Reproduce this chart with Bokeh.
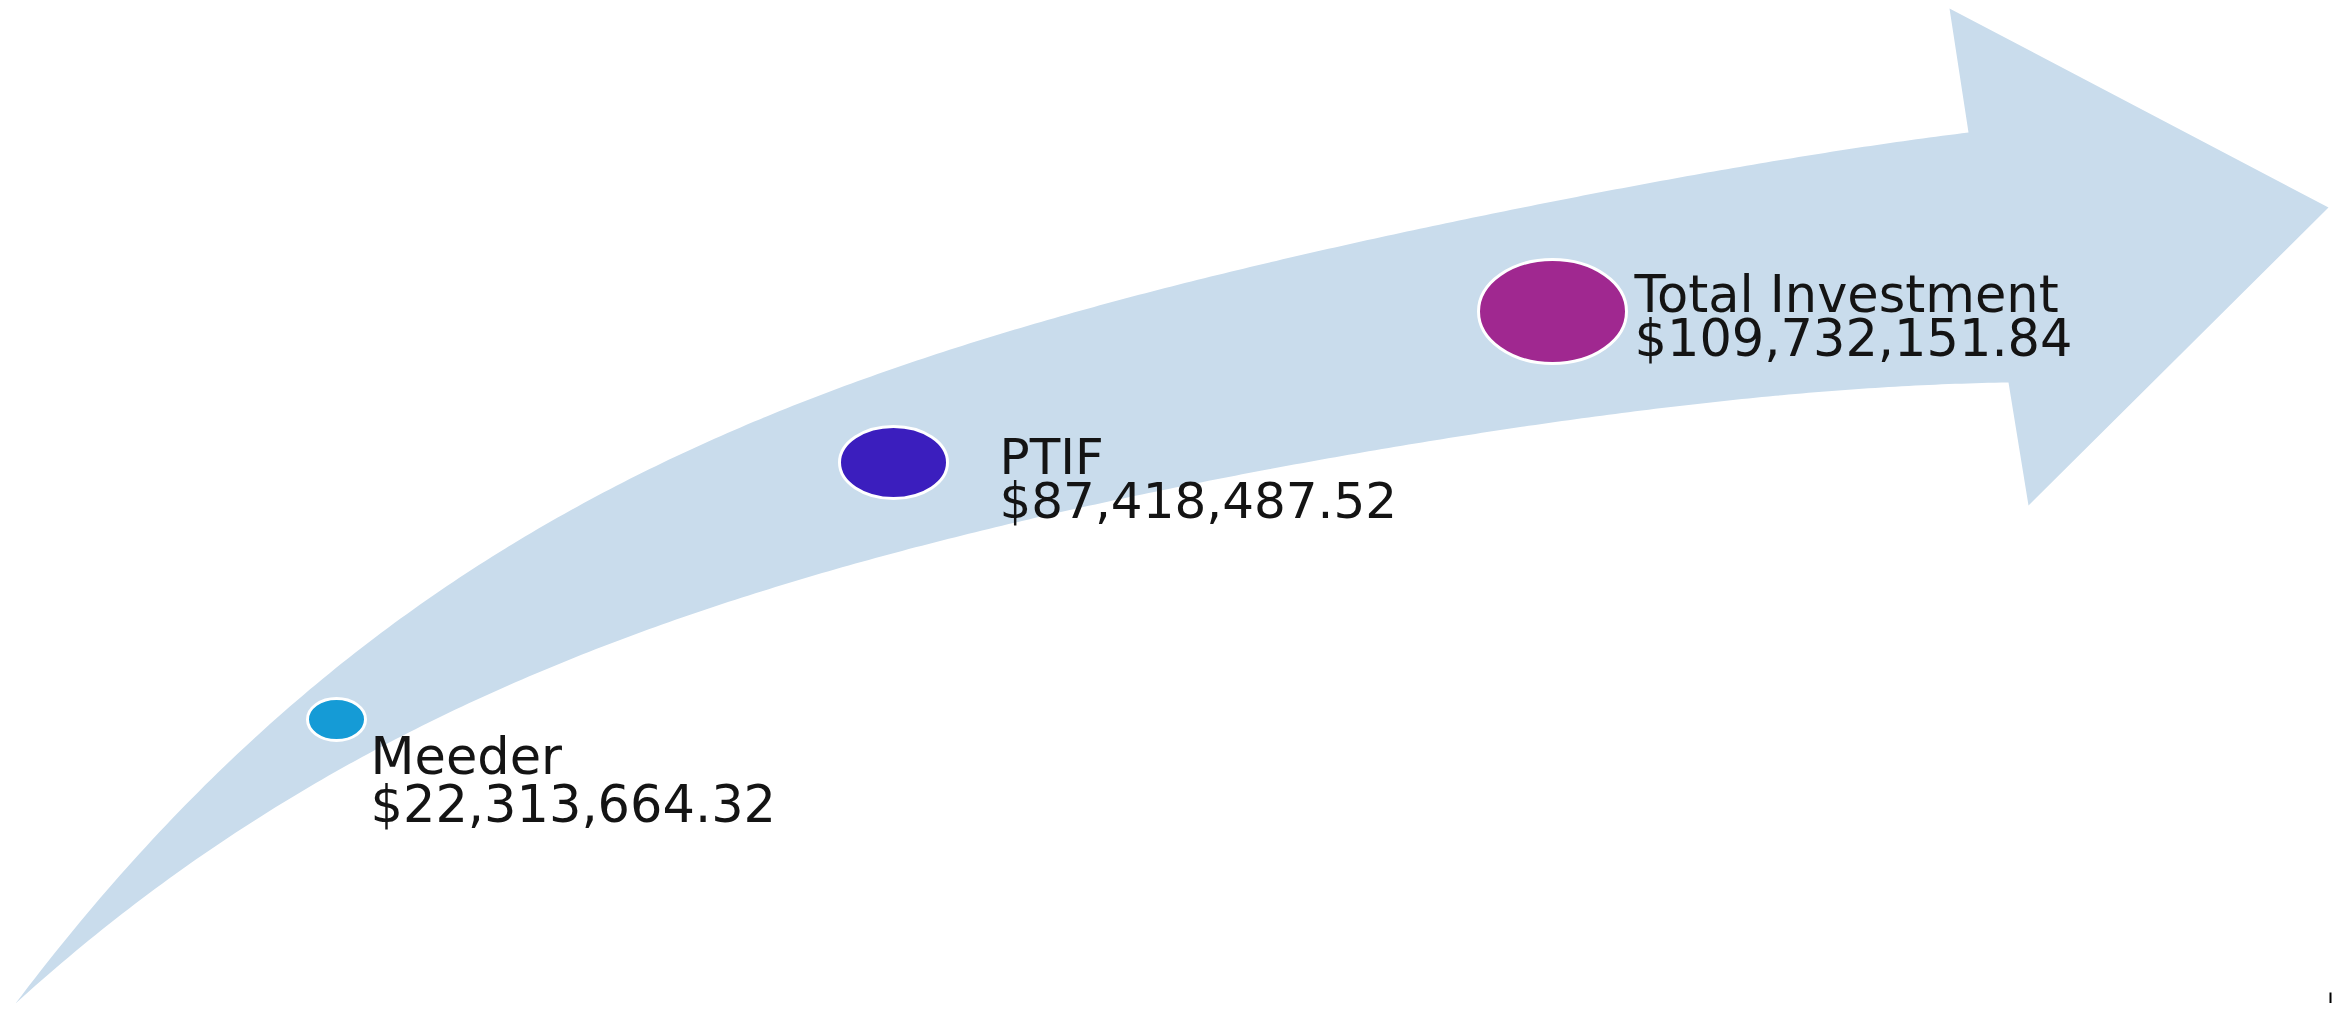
import numpy as np
from bokeh.plotting import figure
from bokeh.models import Range1d
from bokeh.core.properties import value
from bokeh.embed import file_html
from bokeh.resources import INLINE

# ---- data ----
names = ["Meeder", "PTIF", "Total Investment"]
amounts = [22313664.32, 87418487.52, 109732151.84]
amount_labels = ["${:,.2f}".format(v) for v in amounts]

# ---- layout (screen-pixel coordinates of the reference) ----
marker_x = [336, 893, 1552]
marker_y = [719, 462, 311]
marker_w = [58, 108, 148]
marker_h = [42, 72, 104]
marker_colors = ["#159BD6", "#3B1EBE", "#A02890"]
label_x = [370, 999, 1634]
label_y1 = [756, 456, 294]
label_y2 = [804, 500, 338]
label_sizes = ["51px", "50px", "51px"]

# arrow outline guide points
upper_x = [15, 100, 157, 220, 290, 373, 480, 750, 850, 950, 1050, 1150, 1250, 1383, 1574, 1765, 1968]
upper_y = [1003, 900, 833, 767, 700, 633, 566, 432, 390, 350, 315, 287, 263, 237, 203, 168, 132]
lower_x = [15, 67, 133, 233, 367, 522, 700, 846, 978, 1100, 1300, 1440, 1700, 2008]
lower_y = [1003, 958, 903, 833, 753, 679, 612, 565, 530, 505, 463, 436, 406, 382]
head_x = [1968, 1949, 2328, 2028, 2008]
head_y = [132, 8, 207, 505, 382]


def smooth_edge(xs, ys, deg=4, n=300):
    xs = np.asarray(xs, float)
    ys = np.asarray(ys, float)
    x0, x1 = xs[0], xs[-1]
    u = (xs - x0) / (x1 - x0)
    c = np.polyfit(u, ys, deg)
    r0 = ys[0] - np.polyval(c, 0.0)
    r1 = ys[-1] - np.polyval(c, 1.0)
    uu = np.linspace(0, 1, n)
    yy = np.polyval(c, uu) + r0 + (r1 - r0) * uu
    return x0 + uu * (x1 - x0), yy


ux, uy = smooth_edge(upper_x, upper_y)
lx, ly = smooth_edge(lower_x, lower_y)

arrow_x = list(ux) + head_x[1:4] + list(lx[::-1])
arrow_y = list(uy) + head_y[1:4] + list(ly[::-1])

W, H = 2340, 1003
p = figure(width=W, height=H, output_backend="svg", toolbar_location=None,
           x_range=Range1d(0, W), y_range=Range1d(H, 0),
           min_border=0, x_axis_location=None, y_axis_location=None)
p.grid.visible = False
p.outline_line_color = None
p.background_fill_color = "white"
p.border_fill_color = "white"

p.patch(arrow_x, arrow_y, fill_color="#C9DCEC", line_color=None)

p.ellipse(x=marker_x, y=marker_y, width=marker_w, height=marker_h,
          fill_color=marker_colors, line_color="white", line_width=3)

for i in range(len(names)):
    p.text(x=[label_x[i]], y=[label_y1[i]], text=[names[i]],
           text_font=value("DejaVu Sans"), text_font_size=label_sizes[i],
           text_color="#141414", text_baseline="alphabetic", text_align="left")
    p.text(x=[label_x[i]], y=[label_y2[i]], text=[amount_labels[i]],
           text_font=value("DejaVu Sans"), text_font_size=label_sizes[i],
           text_color="#141414", text_baseline="alphabetic", text_align="left")

# small stray tick at the bottom-right corner of the original
p.segment(x0=[2330], y0=[992], x1=[2330], y1=[1009], line_color="black", line_width=2)

open("out.html", "w").write(file_html(p, INLINE))
